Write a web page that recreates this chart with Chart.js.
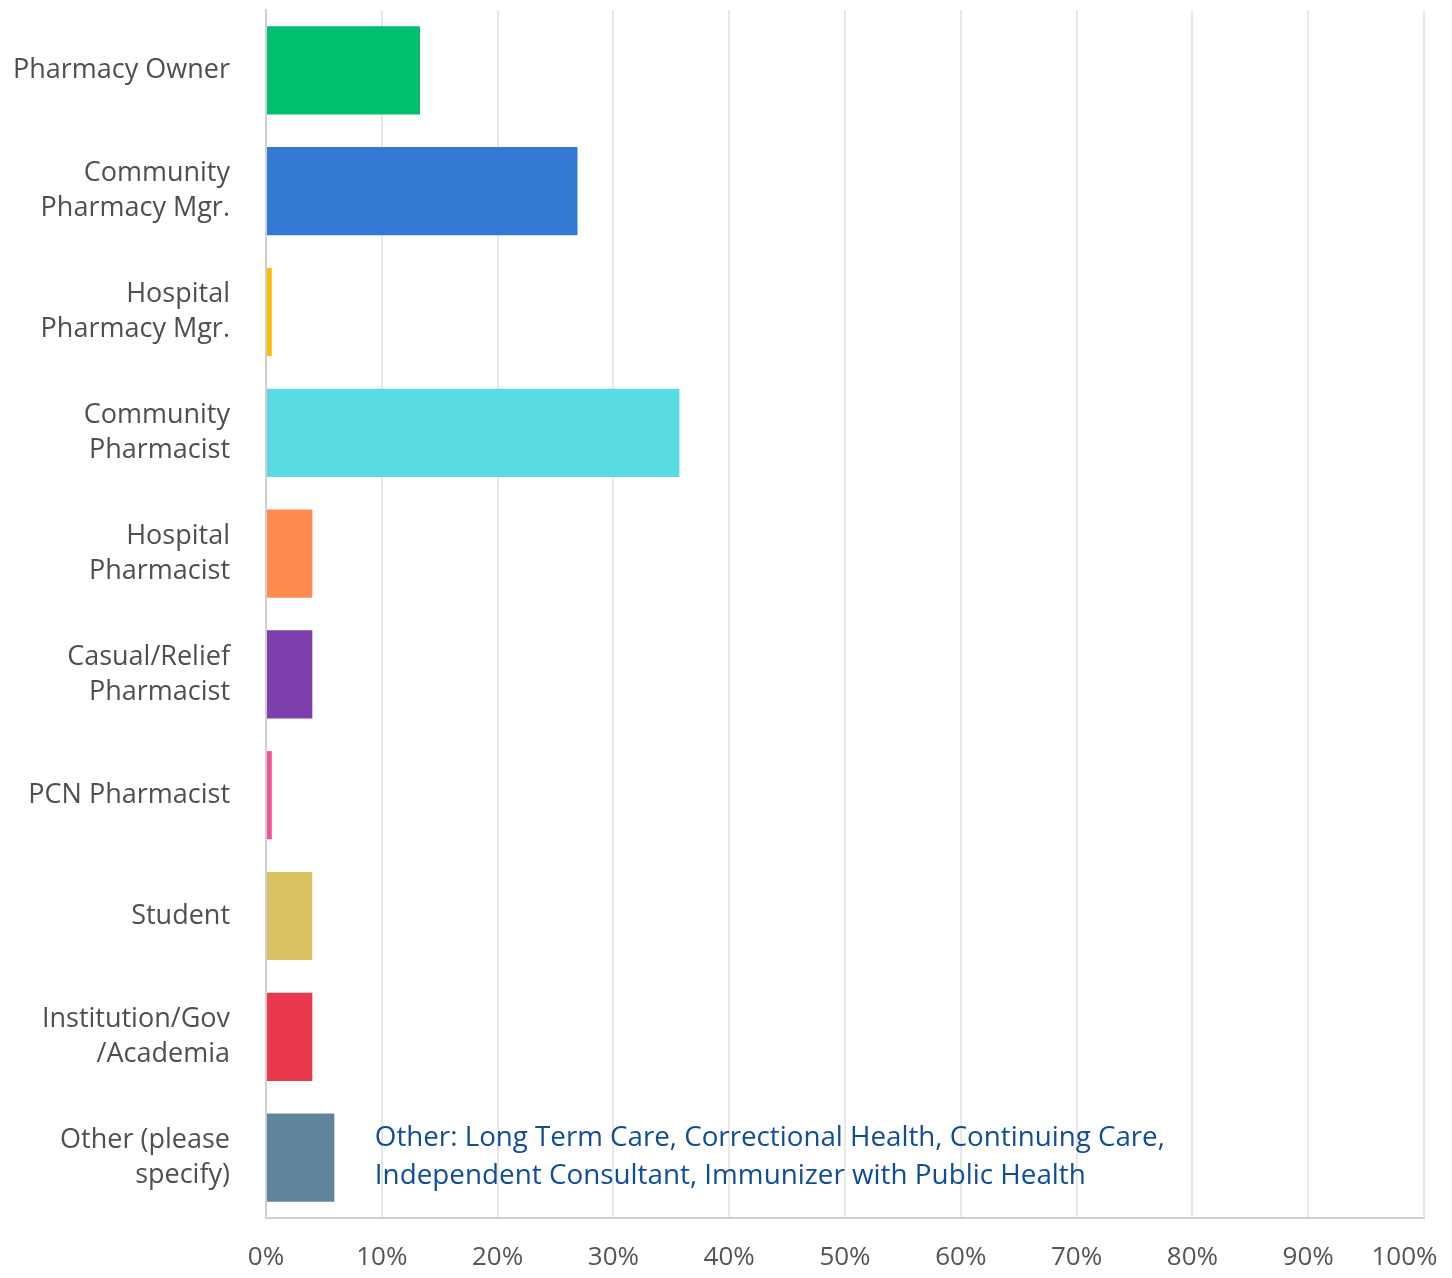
<!DOCTYPE html>
<html>
<head>
<meta charset="utf-8">
<script src="https://cdn.jsdelivr.net/npm/chart.js@4/dist/chart.umd.min.js"></script>
<style>
	body { margin: 0; background: #fff; }
	canvas { display: block; }
</style>
</head>
<body>
<canvas id="roleChart" width="1452" height="1278"></canvas>
<script>
const roles = [
	['Pharmacy Owner'],
	['Community', 'Pharmacy Mgr.'],
	['Hospital', 'Pharmacy Mgr.'],
	['Community', 'Pharmacist'],
	['Hospital', 'Pharmacist'],
	['Casual/Relief', 'Pharmacist'],
	['PCN Pharmacist'],
	['Student'],
	['Institution/Gov', '/Academia'],
	['Other (please', 'specify)']
];
const percents = [13.3, 26.9, 0.5, 35.7, 4.0, 4.0, 0.5, 4.0, 4.0, 5.9];
const barColors = ['#00bf6f', '#3378d3', '#f9be00', '#58dbe1', '#ff8b4f', '#7d3eab', '#ef5298', '#dac263', '#ea384c', '#5f859d'];
const tickValues = [0, 10, 20, 30, 40, 50, 60, 70, 80, 90, 100];
const otherNote = [
	'Other: Long Term Care, Correctional Health, Continuing Care,',
	'Independent Consultant, Immunizer with Public Health'
];

// text box beside the "Other" bar
const notePlugin = {
	id: 'otherNote',
	afterDraw(chart) {
		const ctx = chart.ctx;
		const x = chart.scales.x.getPixelForValue(9.4);
		const y = chart.scales.y.getPixelForValue(roles.length - 1);
		ctx.save();
		ctx.fillStyle = '#0f4d9b';
		ctx.font = '28px "Open Sans", sans-serif';
		ctx.textBaseline = 'middle';
		ctx.textAlign = 'left';
		ctx.fillText(otherNote[0], x, y - 20, 790);
		ctx.fillText(otherNote[1], x, y + 18, 711);
		ctx.restore();
	}
};

new Chart(document.getElementById('roleChart'), {
	type: 'bar',
	data: {
		labels: roles,
		datasets: [{
			data: percents,
			backgroundColor: barColors,
			barPercentage: 0.73,
			categoryPercentage: 1
		}]
	},
	options: {
		indexAxis: 'y',
		responsive: false,
		animation: false,
		layout: { padding: { top: 10, right: 28, left: 0, bottom: 0 } },
		plugins: { legend: { display: false }, tooltip: { enabled: false } },
		scales: {
			x: {
				min: 0,
				max: 100,
				afterBuildTicks(scale) {
					scale.ticks = tickValues.map(v => ({ value: v }));
				},
				afterFit(scale) {
					scale.height = 60;
					scale.paddingLeft = 0;
					scale.paddingRight = 0;
				},
				grid: { color: '#e8e8e8', lineWidth: 2, drawTicks: false },
				border: { color: '#d0d0d0', width: 2 },
				ticks: {
					padding: 24,
					color: '#555',
					font: { family: '"Open Sans", sans-serif', size: 26 },
					// last label sits a bit left so it stays inside the page
					callback: v => v === 100 ? v + '%\u2003\u2002' : v + '%'
				}
			},
			y: {
				afterFit(scale) {
					scale.width = 266;
					scale.paddingTop = 0;
					scale.paddingBottom = 0;
				},
				grid: { display: false, drawTicks: false },
				border: { color: '#d0d0d0', width: 2 },
				ticks: {
					padding: 36,
					color: '#4f4f4f',
					font: { family: '"Open Sans", sans-serif', size: 27, lineHeight: 1.3 }
				}
			}
		}
	},
	plugins: [notePlugin]
});
</script>
</body>
</html>
